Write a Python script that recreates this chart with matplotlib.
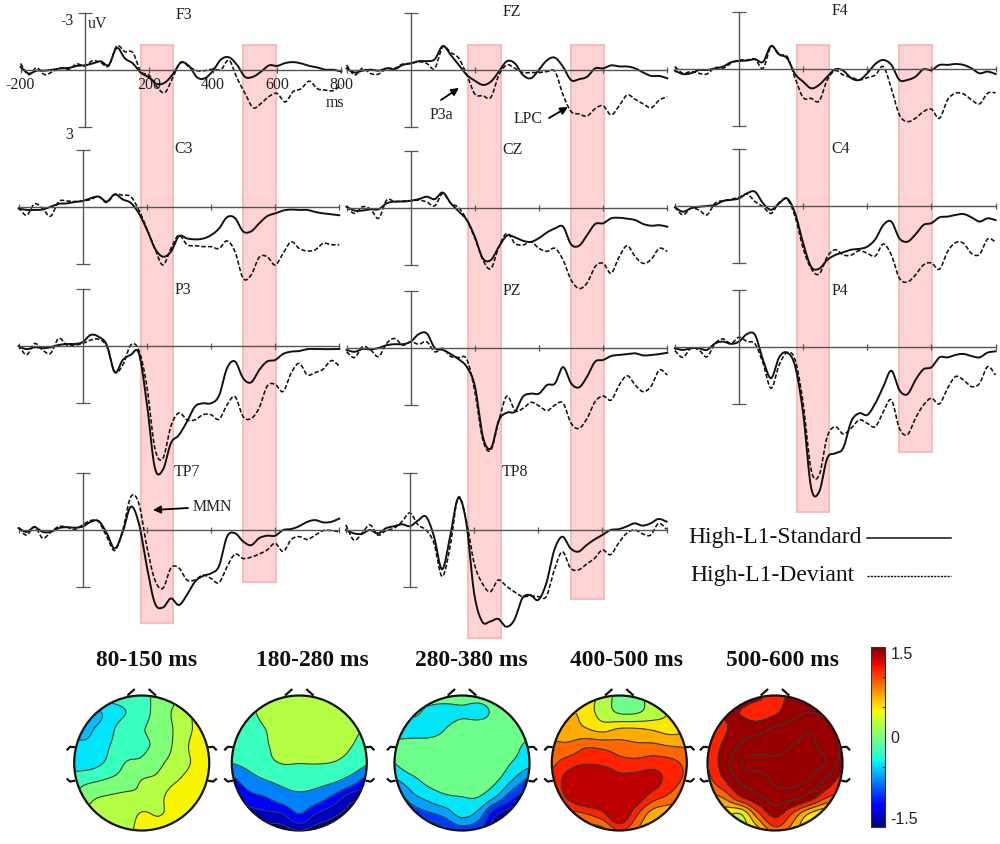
import numpy as np
import matplotlib
matplotlib.use('Agg')
import matplotlib.pyplot as plt
from matplotlib.patches import Circle
from matplotlib.colors import Normalize
from matplotlib.cm import ScalarMappable

plt.rcParams['font.family'] = ['Liberation Serif', 'DejaVu Serif']

# ---------- ERP data (uV, negative up) ----------
times_ms = list(range(-200, 825, 25))

F3_std = [-.15,.2,.05,.05,0,-.07,-.09,-.2,-.23,-.33,-.44,-.25,-1.15,-.6,-.33,.16,.4,.75,.68,.23,-.37,-.2,.4,.45,.05,-.54,-.65,-.25,.38,.37,.1,-.23,-.2,-.35,-.4,-.33,-.2,-.12,0,0,.1]
F3_dev = [-.33,.26,-.1,.26,.1,-.1,0,-.3,-.2,-.47,-.37,-.2,-1.25,-.95,-.9,.1,.28,.9,1.2,.4,-.4,-.15,.05,.05,-.03,0,-.5,.45,1.25,2,1.77,1.4,1.25,1.7,1.15,1,.6,1,1.07,1.1,.8]
C3_std = [.1,.17,.17,.15,0,-.15,-.17,-.25,-.3,-.45,-.53,-.27,-.65,-.38,-.2,.35,1.2,2.2,2.63,2.37,1.55,1.67,1.72,1.68,1.5,1.15,.55,.6,1.3,1.3,.88,.5,.35,.2,.15,.17,.17,.28,.35,.4,.45]
C3_dev = [.03,.45,-.15,.1,.5,-.27,-.3,-.27,-.3,-.38,-.53,-.22,-.65,-.6,-.53,.17,1.15,2.2,3.07,2.2,1.5,2,2.05,2.1,2.1,2.2,1.8,2.37,3.77,3.6,2.67,2.63,3.07,2.45,1.85,2.2,2.33,2.27,1.93,2,2]
P3_std = [0,.15,.05,.1,.05,-.07,-.12,-.12,-.22,-.6,-.5,-.07,1.38,.72,.45,.37,3,6.4,6.5,5.1,4.67,3.97,3.17,3,3,2.6,1.15,.8,1.68,1.9,1.25,.8,.72,.4,.28,.25,.15,.14,.15,.15,.14]
P3_dev = [-.07,.45,-.15,.2,.37,-.42,-.07,-.07,-.15,-.33,-.37,0,1.33,.98,-.07,.2,2.1,5.37,5.9,4.2,3.5,3.87,3.87,3.6,3.6,3.84,3.08,2.65,3.7,3.8,3.25,2.1,2,2.38,1.4,.9,1.5,1.38,1.2,.75,1.03]
TP7_std = [-.1,.1,-.15,.1,.1,-.1,-.15,-.12,-.18,-.43,-.47,.17,.97,.1,-1.23,-.35,1.93,3.85,4.08,3.6,3.95,3.42,2.72,2.42,2.28,1.9,.35,.17,.6,.8,.43,.3,.3,0,-.05,-.2,-.43,-.52,-.4,-.43,-.6]
TP7_dev = [-.1,.27,-.18,.43,.12,-.18,-.15,-.03,-.27,-.5,-.43,.35,1.08,0,-1.75,-1.4,.87,2.63,3.07,2,2,2.63,2.63,2.37,2.55,2.77,1.93,1.27,1.5,1.43,1.27,1.05,.7,1.13,.5,.35,.5,.27,.03,.03,.1]
FZ_std = [-.07,.15,.05,0,.05,-.07,-.03,-.25,-.33,-.45,-.45,-.55,-1.25,-.77,-.25,.28,.58,.8,.63,.1,-.45,-.33,.28,.45,0,-.5,-.63,-.15,.55,.5,.37,-.07,-.07,-.23,-.17,-.17,-.07,.15,.33,.33,.45]
FZ_dev = [-.25,.28,-.07,.2,.23,-.07,-.07,-.3,-.33,-.42,-.33,-.07,-1.2,-.9,-.6,.28,1.28,1.37,1.45,.28,-.25,-.07,.15,.15,.15,.1,.1,1.33,2.2,2.33,2.44,2.05,1.9,2.38,1.9,1.33,1.56,1.8,2,1.6,1.42]
CZ_std = [-.05,.15,.15,.08,.08,-.23,-.32,-.32,-.37,-.45,-.58,-.45,-.8,-.23,.2,.65,1.53,2.67,2.75,2.05,1.47,1.56,1.74,1.8,1.6,1.3,1.09,1,1.93,2,1.44,.86,.82,.56,.53,.58,.65,.86,.95,.92,1]
CZ_dev = [-.05,.3,-.05,.08,.56,-.4,-.32,-.35,-.35,-.4,-.3,-.1,-.75,-.23,0,.65,1.6,2.75,3.2,2.05,1.35,1.88,1.96,1.8,2.14,2.3,2.14,2.75,3.8,4.25,3.96,3.1,2.93,3.45,2.58,2,2.58,2.93,2.72,2.14,2.3]
PZ_std = [.1,.2,.05,.07,0,-.15,-.2,-.2,-.33,-.73,-.77,0,.1,.32,.6,1,2,4.67,5.28,3.8,3.4,3.35,2.56,2.4,2.4,1.95,1.86,1,1.86,2.07,1.5,.72,.63,.42,.37,.32,.28,.39,.37,.32,.25]
PZ_dev = [.2,.5,-.07,.1,.45,-.25,-.5,-.15,-.33,-.2,-.33,.2,.02,.45,.5,.6,2.3,4.84,5.37,3.8,2.53,3.3,3.18,2.86,3.05,3.3,3,2.9,3.96,4.23,3.7,2.82,2.53,2.74,1.95,1.46,1.95,2.3,2,1.16,1.42]
TP8_std = [0,.18,.2,0,.18,-.09,-.2,-.3,-.2,-.5,-.7,.35,2.07,.35,-1.67,-.44,3.33,4.82,4.82,4.68,5.09,4.74,3.6,3.42,3.68,2.8,1.05,.35,.96,1.14,.8,.5,.26,0,-.04,-.18,-.35,-.23,-.35,-.58,-.44]
TP8_dev = [-.27,.53,.18,-.27,.27,.03,-.09,-.44,-.9,-.27,0,.7,2.45,.88,-1.72,-.53,1.75,2.8,3.25,2.63,2.95,3.25,3.5,3.47,3.5,3.5,2.1,1.14,2,2.1,1.8,1.5,1.05,1.3,.7,.18,0,.2,.27,-.35,-.04]
F4_std = [.07,.25,.21,.04,.04,-.05,-.14,-.37,-.44,-.46,-.53,-.39,-1.23,-.79,-.58,.25,.65,1,.82,.39,0,.07,.47,.56,.21,-.28,-.49,-.23,.56,.56,.39,0,.04,-.23,-.23,-.28,-.23,-.05,.21,.12,.25]
F4_dev = [-.14,.21,.12,.21,.25,-.09,-.05,-.32,-.49,-.49,-.53,-.05,-1.19,-.75,-.67,.47,1.49,1.53,1.67,.56,.07,.3,.42,.56,.44,.3,-.14,1,2.4,2.75,2.58,2.23,2.1,2.58,1.61,1.26,1.3,1.61,1.82,1.26,1.23]
C4_std = [.07,.3,.12,.04,0,-.05,-.26,-.32,-.4,-.67,-.75,-.14,.2,-.14,-.4,.39,1.96,3.2,3.3,2.84,2.58,2.44,2.3,2.26,2.14,1.75,1,.82,1.7,1.88,1.5,1,.9,.6,.56,.47,.42,.6,.82,.65,.74]
C4_dev = [.04,.47,.12,.21,.47,-.14,-.28,-.35,-.46,-.63,-.23,.04,.39,-.18,-.35,.56,2.23,3.3,3.58,2.67,2.3,2.58,2.58,2.35,2.49,2.63,2,2.58,3.8,4,3.63,3.1,3,3.33,2.4,1.93,1.96,2.5,2.54,1.74,1.88]
P4_std = [.05,.14,.05,.05,.14,-.2,-.3,-.18,-.3,-.7,-.65,.67,1.63,.53,.28,1,3.47,7.4,7.6,5.84,5.58,5.3,3.9,3.47,3.56,2.95,2.07,1.23,2.25,2.47,1.72,1.16,1.05,.53,.53,.4,.35,.46,.53,.28,.21]
P4_dev = [.18,.53,.05,.14,.5,-.2,-.44,-.2,-.53,-.3,-.18,.84,2.16,.93,.28,.67,2.95,6.46,6.72,4.7,4.18,4.56,4.26,3.82,4,4.18,3.39,2.77,4.26,4.6,3.74,3.04,2.68,2.98,2.16,1.54,1.72,2.07,1.9,1.02,1.46]

# ---------- scalp-map data (uV), 9x9 samples, rows top to bottom ----------
map_80_150 = [
 [-.1,-.1,-.1,-.1,-.1,.1,.2,.4,.5],
 [-.6,-.6,-.42,-.26,-.1,.1,.3,.5,.6],
 [-.6,-.52,-.35,-.1,-.02,.1,.28,.5,.7],
 [-.45,-.45,-.27,-.1,-.05,.08,.3,.55,.7],
 [-.4,-.35,-.2,.0,.05,.2,.35,.52,.7],
 [-.1,-.05,.02,.1,.25,.3,.47,.6,.65],
 [0,.2,.27,.3,.3,.42,.65,.7,.7],
 [.3,.3,.45,.35,.52,.48,.6,.7,.7],
 [.3,.3,.35,.35,.65,.65,.7,.7,.7]]
map_180_280 = [
 [.3,.3,.3,.3,.3,.3,.3,.3,.3],
 [-.3,-.1,.25,.35,.35,.35,.35,.35,.35],
 [-.3,-.2,.05,.3,.35,.35,.35,.2,0],
 [-.3,-.25,0,.2,.3,.3,.25,.08,-.2],
 [-.55,-.4,-.1,.07,.06,.07,.03,-.15,-.5],
 [-1.05,-.75,-.55,-.4,-.3,-.35,-.45,-.7,-1.1],
 [-1.25,-1.05,-.95,-.75,-.65,-.75,-1.0,-1.3,-1.35],
 [-1.4,-1.3,-1.25,-1.2,-.95,-1.2,-1.35,-1.45,-1.45],
 [-1.5,-1.5,-1.5,-1.5,-1.4,-1.5,-1.5,-1.5,-1.5]]
map_280_380 = [
 [0,0,0,0,0,0,0,0,0],
 [-.3,-.1,-.3,-.35,-.28,-.35,-.1,0,0],
 [-.4,-.4,-.4,-.2,0,.05,0,0,-.1],
 [-.1,0,0,0,0,0,0,-.1,-.3],
 [-.2,0,0,0,0,0,0,-.22,-.4],
 [-.55,-.3,-.1,0,0,0,-.15,-.5,-.85],
 [-1.0,-.6,-.4,-.25,-.2,-.2,-.5,-.95,-1.2],
 [-1.2,-.95,-.8,-.65,-.4,-.6,-1.2,-1.4,-1.5],
 [-1.3,-1.3,-1.3,-1.05,-.9,-1.0,-1.45,-1.5,-1.5]]
map_400_500 = [
 [.4,.4,.45,.35,.1,.08,.35,.45,.45],
 [.7,.62,.5,.32,.18,.18,.3,.42,.55],
 [.7,.68,.6,.52,.6,.6,.56,.5,.55],
 [.85,.85,.97,.95,.9,.85,.85,.8,.78],
 [.95,1.1,1.18,1.15,1.07,1.06,1.1,1.06,.95],
 [1.05,1.3,1.5,1.45,1.3,1.3,1.3,1.1,.95],
 [.95,1.25,1.45,1.45,1.5,1.35,1.1,.95,.8],
 [.7,.9,1.0,1.15,1.45,1.05,.7,.6,.6],
 [.6,.6,.65,.7,1.0,.8,.5,.3,.3]]
map_500_600 = [
 [1.45,1.45,1.42,1.35,1.1,1.35,1.45,1.45,1.45],
 [1.2,1.3,1.24,1.1,1.2,1.45,1.55,1.5,1.5],
 [1.1,1.22,1.4,1.45,1.6,1.68,1.82,1.7,1.55],
 [1.1,1.3,1.6,1.72,1.72,1.85,1.9,1.75,1.5],
 [1.0,1.4,1.85,1.92,1.92,1.92,1.92,1.85,1.4],
 [.9,1.25,1.62,1.72,1.9,1.92,1.85,1.5,1.1],
 [.7,.85,1.25,1.5,1.7,1.68,1.45,1.05,.85],
 [.45,.45,.42,.95,1.35,1.0,.6,.42,.45],
 [.3,.3,.3,.5,.9,.7,.35,.3,.3]]

map_titles = ['80-150 ms', '180-280 ms', '280-380 ms', '400-500 ms', '500-600 ms']
map_levels = [
 [-.75,-.5,-.25,0,.25,.5,.75],
 [-1.8,-1.6,-1.4,-1.2,-.95,-.55,.05,.55],
 [-1.8,-1.5,-1.25,-1,-.75,-.5,-.2,.4],
 [0,.2,.4,.58,.8,1,1.2,1.7],
 [.2,.4,.6,.8,1,1.25,1.55,1.85,2.0]]
map_band_uv = [
 [-.57,-.45,-.24,0,.21,.45],
 [-1.5,-1.42,-1.33,-1.12,-.75,-.24,.21],
 [-1.45,-1.35,-1.12,-.95,-.65,-.45,-.05],
 [-.05,.21,.5,.69,.9,1.12,1.33],
 [.21,.5,.69,.9,1.12,1.44,1.44,1.44]]

W, H = 1000, 844
fig = plt.figure(figsize=(W/100, H/100), dpi=100, facecolor='white')

def px_axes(x0, y0, x1, y1, **kw):
    return fig.add_axes([x0/W, 1-y1/H, (x1-x0)/W, (y1-y0)/H], **kw)

def smooth(y, k=8):
    """Catmull-Rom curve through the read values, for drawing only."""
    y = np.asarray(y, float)
    p = np.r_[2*y[0]-y[1], y, 2*y[-1]-y[-2]]
    t = np.arange(k)/k
    out = []
    for i in range(1, len(p)-2):
        p0, p1, p2, p3 = p[i-1], p[i], p[i+1], p[i+2]
        out.append(.5*(2*p1 + (p2-p0)*t + (2*p0-5*p1+4*p2-p3)*t**2 + (3*p1-p0-3*p2+p3)*t**3))
    out.append(y[-1:])
    return np.concatenate(out)

def upsample(a, k=12):
    a = np.asarray(a, float)
    a = np.apply_along_axis(smooth, 0, a, k)
    return np.apply_along_axis(smooth, 1, a, k)

PX_PER_MS = 64.15/200
PX_PER_UV = 19.0
AXC = '#555555'
PINK, PINK_EDGE = '#fdd3d3', '#f6bcbc'

# (zero x in px, [window bottoms in px])
columns = [(83.0, [623, 582]), (410.7, [638, 599]), (739.0, [512, 452])]
windows_ms = [(180, 280), (500, 603)]
for zero, bottoms in columns:
    a = px_axes(zero-200*PX_PER_MS, 0, zero+800*PX_PER_MS, H)
    a.set_xlim(-200, 800); a.set_ylim(H, 0); a.axis('off')
    for (t0, t1), b in zip(windows_ms, bottoms):
        a.bar(t0, b-45, width=t1-t0, bottom=45, align='edge',
              color=PINK, edgecolor=PINK_EDGE, linewidth=1.5)

panels = [
 ('F3',  F3_std,  F3_dev,  84.7,  69.7, 184, 15),
 ('C3',  C3_std,  C3_dev,  82.7, 206.7, 184, 149),
 ('P3',  P3_std,  P3_dev,  82.7, 346.3, 183, 290),
 ('TP7', TP7_std, TP7_dev, 82.7, 530.0, 187, 472),
 ('FZ',  FZ_std,  FZ_dev,  410.7, 69.7, 512, 12),
 ('CZ',  CZ_std,  CZ_dev,  410.7, 207.7, 513, 150),
 ('PZ',  PZ_std,  PZ_dev,  410.7, 348.0, 512, 291),
 ('TP8', TP8_std, TP8_dev, 410.0, 530.0, 515, 472),
 ('F4',  F4_std,  F4_dev,  739.0, 69.3, 840, 11),
 ('C4',  C4_std,  C4_dev,  739.0, 206.0, 841, 149),
 ('P4',  P4_std,  P4_dev,  739.0, 347.3, 840, 291),
]

axes_by_name = {}
for name, std, dev, zero, base, tx, ty in panels:
    ax = px_axes(zero-200*PX_PER_MS, base-3*PX_PER_UV, zero+800*PX_PER_MS, base+3*PX_PER_UV)
    ax.patch.set_visible(False)
    ax.set_xlim(-200, 800); ax.set_ylim(3, -3)
    for s in ('top', 'right'):
        ax.spines[s].set_visible(False)
    ax.spines['left'].set_position(('data', 0))
    ax.spines['bottom'].set_position(('data', 0))
    for s in ('left', 'bottom'):
        ax.spines[s].set_color(AXC); ax.spines[s].set_linewidth(1.0)
    ax.set_xticks([-200, 200, 400, 600, 800]); ax.set_yticks([-3, 3])
    ax.set_xticklabels([]); ax.set_yticklabels([])
    ax.tick_params(axis='x', direction='inout', length=5, width=0.9, color=AXC)
    ax.tick_params(axis='y', direction='inout', length=10, width=0.9, color=AXC)
    ax.plot(smooth(times_ms), smooth(dev), color='#111111', lw=1.15, ls=(0, (2.8, 1.3)), clip_on=False)
    ax.plot(smooth(times_ms), smooth(std), color='#111111', lw=1.4, clip_on=False)
    axes_by_name[name] = ax

# first panel carries the axis labels
ax = axes_by_name['F3']
ax.set_xticklabels(['-200', '200', '400', '600', '800'], fontsize=11.5, color='#222222')
ax.tick_params(axis='x', pad=3)
ax.set_yticklabels(['-3', '3'], fontsize=11.5, color='#222222')
ax.tick_params(axis='y', pad=3)
for l in ax.get_yticklabels():
    l.set_va('top')

# overlay in px for text and pointers
pix = px_axes(0, 0, W, H)
pix.set_xlim(0, W); pix.set_ylim(H, 0); pix.axis('off'); pix.patch.set_visible(False)
TXT = '#222222'
for name, std, dev, zero, base, tx, ty in panels:
    pix.text(tx, ty, name, fontsize=11.4, ha='center', va='center', color=TXT)
pix.text(98, 24, 'uV', fontsize=11.4, ha='center', va='center', color=TXT)
pix.text(335, 103, 'ms', fontsize=11.4, ha='center', va='center', color=TXT)
pix.text(441, 115, 'P3a', fontsize=11.4, ha='center', va='center', color=TXT)
pix.text(528, 119, 'LPC', fontsize=11.4, ha='center', va='center', color=TXT)
pix.text(212, 507, 'MMN', fontsize=11.4, ha='center', va='center', color=TXT)
for xy, xyt in [((459, 88), (441, 100)), ((568, 107), (549, 118)), ((153, 510), (188, 508))]:
    pix.annotate('', xy=xy, xytext=xyt,
                 arrowprops=dict(arrowstyle='-|>', color='black', lw=1.3, shrinkA=0, shrinkB=0,
                                 mutation_scale=11))

pix.text(688, 538, 'High-L1-Standard', fontsize=17.0, ha='left', va='center', color='#111111')
pix.text(690, 576, 'High-L1-Deviant', fontsize=17.0, ha='left', va='center', color='#111111')
pix.plot([867, 951], [538, 538], color='#111111', lw=1.1)
pix.plot([867, 951], [576, 576], color='#111111', lw=1.0, ls=(0, (1.6, 0.8)))

# ---------- scalp maps ----------
norm = Normalize(-1.5, 1.5)
jet = plt.get_cmap('jet')
maps = [map_80_150, map_180_280, map_280_380, map_400_500, map_500_600]
map_cx = [141.7, 299.3, 462.0, 619.3, 775.0]
title_cx = [146.5, 312, 471, 626, 782]
CY, R, SPAN = 763, 67.5, 1.2
for vals, lv, band, cx, tcx, title in zip(maps, map_levels, map_band_uv, map_cx, title_cx, map_titles):
    ax = px_axes(cx-SPAN*R, CY-SPAN*R, cx+SPAN*R, CY+SPAN*R)
    ax.set_xlim(-SPAN, SPAN); ax.set_ylim(-SPAN, SPAN); ax.axis('off')
    Z = upsample(vals)
    gx = np.linspace(-1, 1, Z.shape[1]); gy = np.linspace(1, -1, Z.shape[0])
    head = Circle((0, 0), 1.0, transform=ax.transData, fc='none', ec='none')
    ax.add_patch(head)
    cf = ax.contourf(gx, gy, Z, levels=lv, colors=[jet(norm(v)) for v in band], extend='neither')
    cl = ax.contour(gx, gy, Z, levels=lv[1:-1], colors='#2c3f3a', linewidths=0.8, linestyles='solid')
    cf.set_clip_path(head); cl.set_clip_path(head)
    ax.add_patch(Circle((0, 0), 1.0, fc='none', ec='#111111', lw=1.6))
    for sx in (-1, 1):
        ax.plot([sx*.2, sx*.115], [1.01, 1.085], color='#111111', lw=1.6, clip_on=False)
        ax.plot([sx*1.0, sx*1.06, sx*1.1], [.235, .24, .2], color='#111111', lw=1.6)
        ax.plot([sx*1.0, sx*1.06, sx*1.1], [-.265, -.275, -.24], color='#111111', lw=1.6)
    pix.text(tcx, 661, title, fontsize=16.9, fontweight='bold', ha='center', va='center', color='#111111')

# colour bar
cax = px_axes(871, 647, 885, 827)
cb = fig.colorbar(ScalarMappable(norm=norm, cmap='jet'), cax=cax, ticks=[-1.5, 0, 1.5])
cb.ax.set_yticklabels(['-1.5', '0', '1.5'], fontfamily='Liberation Sans', fontsize=11.5, color='#222222')
cb.ax.tick_params(length=0, pad=4)
cb.ax.set_yticks(np.arange(-1.5, 1.6, .5), minor=True)
cb.ax.tick_params(which='minor', direction='in', length=2, width=.7, color='#333333')
cb.outline.set_edgecolor('#333333'); cb.outline.set_linewidth(.8)
labs = cb.ax.get_yticklabels()
labs[0].set_va('bottom'); labs[2].set_va('top')

fig.savefig('out.png', dpi=100)
